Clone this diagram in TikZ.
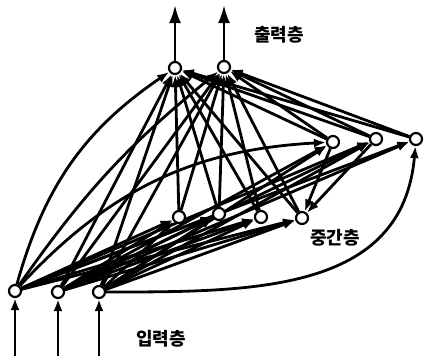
\documentclass[tikz,border=0pt]{standalone}
\usepackage{fontspec}
\newfontfamily\kr{Noto Sans CJK KR}
\usetikzlibrary{arrows.meta}
\pgfdeclarelayer{bg}
\pgfsetlayers{bg,main}
\begin{document}
\begin{tikzpicture}[x=1pt,y=-1pt,
  neuron/.style={circle,draw,fill=white,line width=2.2pt,minimum size=12pt,inner sep=0pt},
  conn/.style={line width=2.8pt,-{Latex[length=12pt,width=9pt]}},
  bigarrow/.style={line width=2.8pt,-{Latex[length=18pt,width=12pt]}},
  lab/.style={font=\kr\bfseries\fontsize{18}{18}\selectfont,inner sep=0pt}]
\useasboundingbox (0,0) rectangle (428,359);
% nodes
\node[neuron] (O1) at (175,68) {};
\node[neuron] (O2) at (224,67) {};
\node[neuron] (R1) at (333,142) {};
\node[neuron] (R2) at (376,139) {};
\node[neuron] (R3) at (416,139) {};
\node[neuron] (H1) at (179,217) {};
\node[neuron] (H2) at (219,214) {};
\node[neuron] (H3) at (261,217) {};
\node[neuron] (H4) at (302,218) {};
\node[neuron] (I1) at (15,291) {};
\node[neuron] (I2) at (58,292) {};
\node[neuron] (I3) at (99,292) {};
\coordinate (a1) at (175,5);
\coordinate (a2) at (224,5);
\coordinate (b1) at (15,356);
\coordinate (b2) at (58,356);
\coordinate (b3) at (99,356);
% labels
\node[lab] (lo) at (279,35) {출력층};
\node[lab] (lh) at (335,238) {중간층};
\node[lab] (li) at (161,339) {입력층};
\begin{pgfonlayer}{bg}
% external in/out
\draw[bigarrow] (O1) -- (a1);
\draw[bigarrow] (O2) -- (a2);
\foreach \i in {1,2,3} \draw[conn] (b\i) -- (I\i);
% input -> hidden
\foreach \i in {1,2,3} \foreach \h in {1,2,3,4} \draw[conn] (I\i) -- (H\h);
% hidden -> output
\foreach \h in {1,2,3,4} \foreach \o in {1,2} \draw[conn] (H\h) -- (O\o);
% input -> output
\draw[conn] (I1) to[bend left=20] (O1);
\draw[conn] (I1) to[bend left=8] (O2);
\draw[conn] (I2) -- (O1);
\draw[conn] (I2) -- (O2);
\draw[conn] (I3) -- (O1);
\draw[conn] (I3) -- (O2);
% context -> output
\foreach \r in {1,2,3} \foreach \o in {1,2} \draw[conn] (R\r) -- (O\o);
% input -> context
\draw[conn] (I1) to[bend left=22] (R1);
\draw[conn] (I1) -- (R2);
\draw[conn] (I1) -- (R3);
\draw[conn] (I2) -- (R1);
\draw[conn] (I2) -- (R2);
\draw[conn] (I2) -- (R3);
\draw[conn] (I3) -- (R1);
\draw[conn] (I3) -- (R2);
\draw[conn] (I3) to[out=0,in=-95,looseness=1.1] (R3);
% context -> hidden
\draw[conn] (R1) -- (H4);
\draw[conn] (R2) -- (H4);
\end{pgfonlayer}
\end{tikzpicture}
\end{document}
